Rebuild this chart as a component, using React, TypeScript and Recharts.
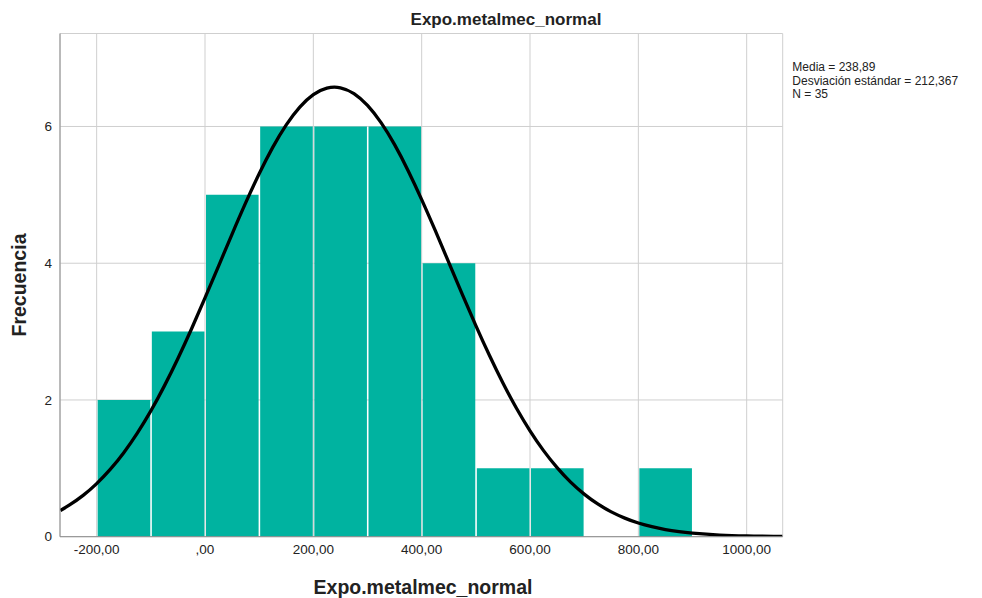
import { ComposedChart, Bar, Line, XAxis, YAxis, CartesianGrid } from 'recharts';

// histogram bins (width 100), bin centres and counts
const binMids = [-150, -50, 50, 150, 250, 350, 450, 550, 650, 750, 850];
const binCounts = [2, 3, 5, 6, 6, 6, 4, 1, 1, 0, 1];

// normal curve
const curveX = [
  -267, -250, -225, -200, -175, -150, -125, -100, -75, -50, -25, 0, 25, 50, 75, 100, 125, 150, 175, 200,
  225, 250, 275, 300, 325, 350, 375, 400, 425, 450, 475, 500, 525, 550, 575, 600, 625, 650, 675, 700,
  725, 750, 775, 800, 825, 850, 875, 900, 950, 1000, 1050, 1066,
];
const curveY = [
  0.384, 0.465, 0.605, 0.777, 0.984, 1.229, 1.515, 1.84, 2.206, 2.607, 3.038, 3.492, 3.959, 4.427, 4.882,
  5.309, 5.694, 6.024, 6.284, 6.466, 6.561, 6.566, 6.481, 6.308, 6.056, 5.734, 5.354, 4.931, 4.479, 4.012,
  3.544, 3.088, 2.653, 2.248, 1.879, 1.549, 1.259, 1.01, 0.798, 0.623, 0.479, 0.363, 0.272, 0.2, 0.146,
  0.105, 0.074, 0.052, 0.024, 0.011, 0.005, 0.003,
];

const xTicks = [-200, 0, 200, 400, 600, 800, 1000];
const yTicks = [0, 2, 4, 6];
const xDomain = [-267.7, 1066.5];
const yDomain = [0, 7.36];

const title = 'Expo.metalmec_normal';
const xTitle = 'Expo.metalmec_normal';
const yTitle = 'Frecuencia';
const statLines = ['Media = 238,89', 'Desviación estándar = 212,367', 'N = 35'];

const bins = binMids.map((mid, i) => ({ mid, count: binCounts[i] }));
const curve = curveX.map((x, i) => ({ x, y: curveY[i] }));

const fmtX = (v: number) => (v === 0 ? ',00' : `${v},00`);

const font = 'Arial, "Liberation Sans", sans-serif';

export default function App() {
  return (
    <div style={{ position: 'absolute', left: 0, top: 0, width: 982, height: 598, background: '#fff' }}>
      <ComposedChart
        width={982}
        height={598}
        data={bins}
        margin={{ top: 33.5, right: 199.3, bottom: 31.3, left: 30 }}
      >
        <CartesianGrid stroke="#cfcfcf" strokeWidth={1} />
        <XAxis
          type="number"
          dataKey="x"
          domain={xDomain}
          ticks={xTicks}
          allowDataOverflow
          tickFormatter={fmtX}
          tickLine={false}
          axisLine={{ stroke: '#8c8c8c' }}
          tick={{ fill: '#222', fontSize: 13.5, fontFamily: font }}
          height={30}
        />
        <XAxis xAxisId="bins" type="number" dataKey="mid" domain={xDomain} allowDataOverflow hide />
        <YAxis
          domain={yDomain}
          ticks={yTicks}
          allowDataOverflow
          tickLine={false}
          axisLine={{ stroke: '#8c8c8c' }}
          tick={{ fill: '#222', fontSize: 13.5, fontFamily: font }}
          width={30}
        />
        <Bar xAxisId="bins" dataKey="count" fill="#00b3a0" barSize={52.6} isAnimationActive={false} />
        <Line
          data={curve}
          dataKey="y"
          type="natural"
          stroke="#000"
          strokeWidth={3.3}
          dot={false}
          activeDot={false}
          isAnimationActive={false}
        />
      </ComposedChart>
      <svg
        width={982}
        height={598}
        style={{ position: 'absolute', left: 0, top: 0, pointerEvents: 'none' }}
      >
        <text x={506} y={25} textAnchor="middle" fontFamily={font} fontWeight="bold" fontSize={17} fill="#222">
          {title}
        </text>
        <text x={423} y={594} textAnchor="middle" fontFamily={font} fontWeight="bold" fontSize={19.5} fill="#222">
          {xTitle}
        </text>
        <text
          x={26}
          y={285}
          textAnchor="middle"
          transform="rotate(-90 26 285)"
          fontFamily={font}
          fontWeight="bold"
          fontSize={19.5}
          fill="#222"
        >
          {yTitle}
        </text>
        {statLines.map((s, i) => (
          <text key={s} x={792.3} y={71 + i * 13.5} fontFamily={font} fontSize={12} fill="#222">
            {s}
          </text>
        ))}
      </svg>
    </div>
  );
}
